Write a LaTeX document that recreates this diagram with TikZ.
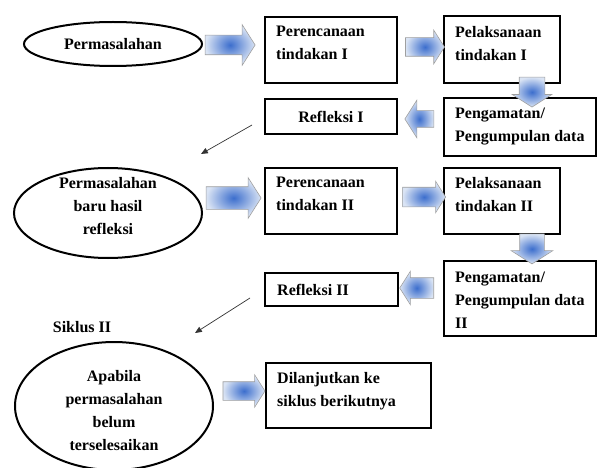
\documentclass[tikz,border=0pt]{standalone}
\usepackage{fontspec}
\setmainfont{Liberation Serif}
\usetikzlibrary{shapes.geometric, shapes.arrows, arrows.meta, positioning}

\definecolor{flowin}{RGB}{60,110,205}
\definecolor{flowout}{RGB}{218,228,244}

\begin{document}
\begin{tikzpicture}[
    x=1pt, y=-1pt,
    font=\fontsize{16}{23}\selectfont\bfseries,
    box/.style={draw, line width=2pt, inner sep=0pt, anchor=north west},
    oval/.style={draw, ellipse, line width=2pt, inner sep=0pt, align=center},
    txt/.style={inner sep=0pt, anchor=north west, align=left},
    flow/.style={single arrow, draw=gray!75, line width=0.6pt, shading=radial,
        inner color=flowin, outer color=flowout, inner xsep=0pt, single arrow tip angle=115},
    thin/.style={-{Triangle[length=2.4mm, width=2mm]}, line width=0.7pt, black!80}
]
    \useasboundingbox (0,0) rectangle (597,468);

    % Siklus I
    \node[oval, minimum width=178pt, minimum height=44pt] (masalah) at (113,44) {Permasalahan};
    \node[box, minimum width=132pt, minimum height=66pt] (rencana1) at (264,16) {};
    \node[txt] at ([shift={(12,10)}]rencana1.north west) {Perencanaan\\tindakan I};
    \node[box, minimum width=116pt, minimum height=67pt] (laksana1) at (443,15) {};
    \node[txt] at ([shift={(12,11)}]laksana1.north west) {Pelaksanaan\\tindakan I};
    \node[box, minimum width=152pt, minimum height=58pt] (amat1) at (443,97) {};
    \node[txt] at ([shift={(12,11)}]amat1.north west) {Pengamatan/\\Pengumpulan data};
    \node[box, minimum width=132pt, minimum height=35pt] (refleksi1) at (264,98) {};
    \node at (refleksi1.center) {Refleksi I};

    % Siklus II
    \node[oval, minimum width=188pt, minimum height=90pt] (masalah2) at (108,213) {};
    \node[align=center, inner sep=0pt] at ([yshift=7pt]masalah2.center) {Permasalahan\\baru hasil\\refleksi};
    \node[box, minimum width=132pt, minimum height=66pt] (rencana2) at (264,167) {};
    \node[txt] at ([shift={(12,10)}]rencana2.north west) {Perencanaan\\tindakan II};
    \node[box, minimum width=116pt, minimum height=66pt] (laksana2) at (443,167) {};
    \node[txt] at ([shift={(12,10)}]laksana2.north west) {Pelaksanaan\\tindakan II};
    \node[box, minimum width=152pt, minimum height=75pt] (amat2) at (443,260) {};
    \node[txt] at ([shift={(12,12)}]amat2.north west) {Pengamatan/\\Pengumpulan data\\II};
    \node[box, minimum width=133pt, minimum height=33pt] (refleksi2) at (264,272) {};
    \node[anchor=west, inner sep=0pt] at ([xshift=13pt]refleksi2.west) {Refleksi II};
    \node (siklus) at (82,327) {Siklus II};

    % Lanjut
    \node[oval, minimum width=198pt, minimum height=128pt] (belum) at (114,406) {};
    \node[align=center, inner sep=0pt] at ([yshift=-5pt]belum.center) {Apabila\\permasalahan\\belum\\terselesaikan};
    \node[box, minimum width=165pt, minimum height=65pt] (lanjut) at (265,362) {};
    \node[txt] at ([shift={(12,10)}]lanjut.north west) {Dilanjutkan ke\\siklus berikutnya};

    % Block arrows
    \node[flow, minimum height=50pt, inner ysep=9.5pt, single arrow head extend=10.5pt] (f1) at (227,45) {};
    \node[flow, minimum height=39pt, inner ysep=9pt, single arrow head extend=7.5pt] (f2) at (422,47) {};
    \node[flow, minimum height=30pt, inner ysep=12.5pt, single arrow head extend=7pt, rotate=-90] (f3) at (532,88) {};
    \node[flow, minimum height=29pt, inner ysep=8pt, single arrow head extend=10.5pt, rotate=180] (f4) at (422,119) {};
    \node[flow, minimum height=55pt, inner ysep=11pt, single arrow head extend=9pt] (f5) at (230,198) {};
    \node[flow, minimum height=43pt, inner ysep=9.5pt, single arrow head extend=6pt] (f6) at (421,197) {};
    \node[flow, minimum height=30pt, inner ysep=12pt, single arrow head extend=8.5pt, rotate=-90] (f7) at (532,245) {};
    \node[flow, minimum height=34pt, inner ysep=10pt, single arrow head extend=6.5pt, rotate=180] (f8) at (420,288) {};
    \node[flow, minimum height=42pt, inner ysep=9pt, single arrow head extend=7pt] (f9) at (241,391) {};

    % Thin arrows
    \coordinate (k1) at (252,125);
    \coordinate (m1) at (201,154);
    \coordinate (k2) at (250,298);
    \coordinate (m2) at (195,333);
    \draw[thin] (k1) -- (m1);
    \draw[thin] (k2) -- (m2);
\end{tikzpicture}
\end{document}
